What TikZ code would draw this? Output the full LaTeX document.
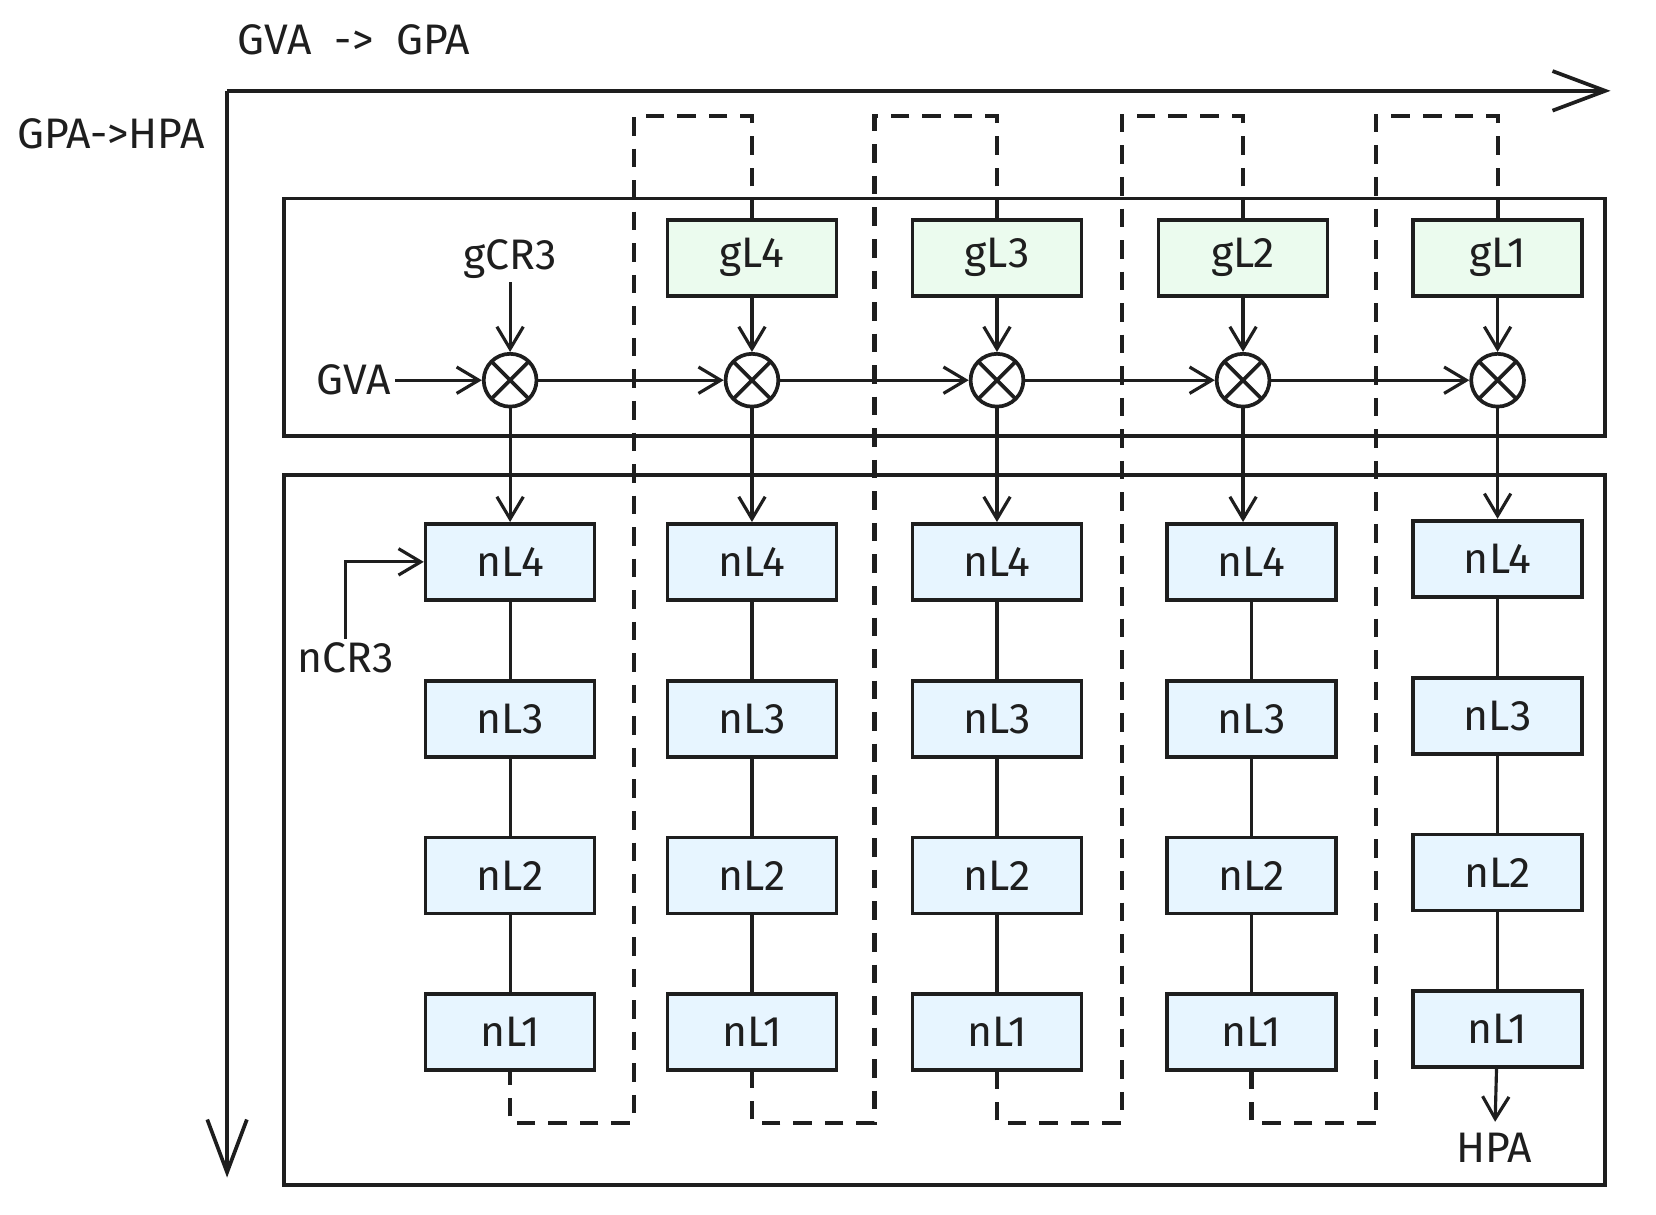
\documentclass[tikz,border=0pt]{standalone}
\usepackage{fontspec}
\setmainfont{Fira Sans}
\usetikzlibrary{arrows.meta}
\definecolor{ink}{HTML}{1E1E1E}
\definecolor{gfill}{HTML}{EBFBEE}
\definecolor{nfill}{HTML}{E7F5FF}
\tikzset{
  lbl/.style={text=ink, font=\fontsize{23}{27}\selectfont, inner sep=2pt},
  gbox/.style={lbl, draw=ink, line width=2pt, fill=gfill, minimum width=3.2cm, minimum height=1.44cm},
  nbox/.style={lbl, draw=ink, line width=2pt, fill=nfill, minimum width=3.2cm, minimum height=1.44cm},
  xop/.style={circle, draw=ink, line width=2pt, minimum size=1cm, inner sep=0pt,
    path picture={\draw[ink, line width=2pt]
      (path picture bounding box.north west) -- (path picture bounding box.south east)
      (path picture bounding box.north east) -- (path picture bounding box.south west);}},
  arr/.style={draw=ink, line width=1.7pt, -{Straight Barb[length=0.42cm, width=0.5cm, line width=1.7pt]}},
  axisarr/.style={draw=ink, line width=2pt, -{Straight Barb[length=1cm, width=0.75cm, line width=2pt]}},
  dashline/.style={draw=ink, line width=2.2pt, dash pattern=on 10pt off 7pt},
  frame/.style={draw=ink, line width=2pt}
}
\begin{document}
\begin{tikzpicture}[x=0.02cm, y=-0.02cm]
  \useasboundingbox (0,0) rectangle (1568,1150);
  % axes
  \draw[axisarr] (215,86) -- (1525,86);
  \draw[axisarr] (215,86) -- (215,1115);
  \node[lbl] (xlab) at (335,38) {GVA\ \ ->\ \ GPA};
  \node[lbl] (ylab) at (105,127) {GPA->HPA};
  % frames
  \draw[frame] (269,188) rectangle (1520,413);
  \draw[frame] (269,450) rectangle (1520,1122);
  % guest walk
  \foreach \c/\x in {1/483,2/712,3/944,4/1177,5/1418}
    \node[xop] (m\c) at (\x,360) {};
  \foreach \a/\b in {1/2,2/3,3/4,4/5}
    \draw[arr] (m\a) -- (m\b);
  \foreach \c/\x/\l in {2/712/4,3/944/3,4/1177/2,5/1418/1} {
    \node[gbox] (g\c) at (\x,244) {gL\l};
    \draw[arr] (g\c) -- (m\c);
  }
  \node[lbl] (gcr) at (483,245) {gCR3};
  \draw[arr] (gcr) -- (m1);
  \node[lbl] (gva) at (335,360) {GVA};
  \draw[arr] (gva) -- (m1);
  % nested walks
  \foreach \c/\x/\d in {1/483/0,2/712/0,3/944/0,4/1185/0,5/1418/3} {
    \foreach \l/\y in {4/532,3/681,2/829,1/977}
      \node[nbox] (n\c\l) at (\x,\y-\d) {nL\l};
    \draw[ink, line width=1.7pt] (n\c4) -- (n\c3) (n\c3) -- (n\c2) (n\c2) -- (n\c1);
    \draw[arr] (m\c) -- (m\c |- n\c4.north);
  }
  \node[lbl] (ncr) at (327,623) {nCR3};
  \draw[arr] (ncr) |- (n14);
  \node[lbl] (hpa) at (1415,1087) {HPA};
  \draw[arr, shorten >=4pt] (n51) -- (hpa);
  % dashed groups
  \foreach \c/\p/\xl in {2/1/600,3/2/828,4/3/1062,5/4/1303}
    \draw[dashline] (g\c.north) |- (\xl,110) -- (\xl,1063) -| (n\p1.south);
\end{tikzpicture}
\end{document}
